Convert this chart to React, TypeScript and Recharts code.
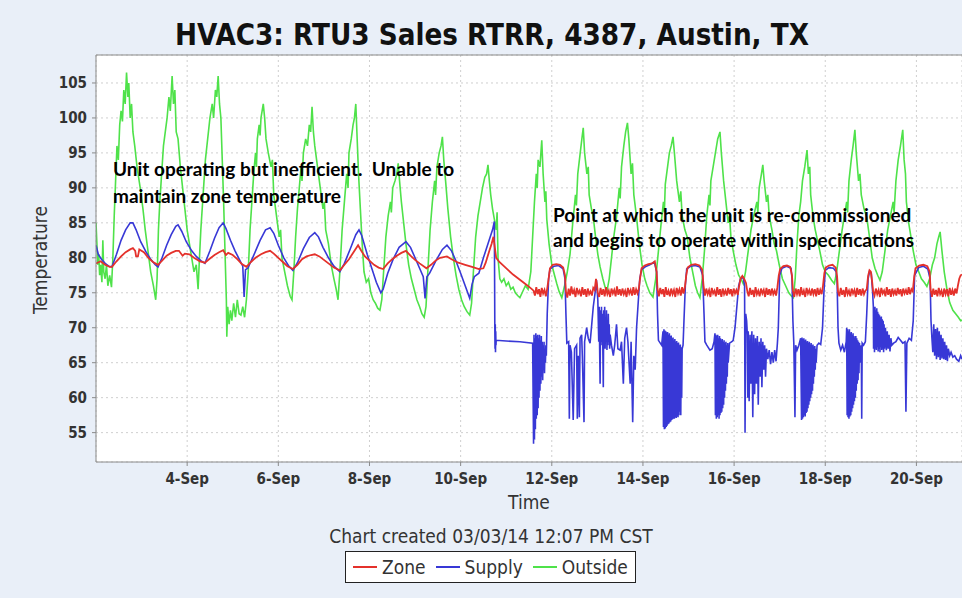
import React from "react";
import { LineChart, Line, XAxis, YAxis, CartesianGrid, ReferenceLine } from "recharts";

// time is in days of September (4.5 = 4-Sep noon), values in °F
const xTicks = [4, 6, 8, 10, 12, 14, 16, 18, 20];
const yTicks = [55, 60, 65, 70, 75, 80, 85, 90, 95, 100, 105];

const outside: [number, number][] = [
  [2.0, 85], [2.02, 82], [2.04, 79], [2.06, 80.5], [2.08, 77.5], [2.1, 79], [2.13, 76.5], [2.15, 82.5], [2.17, 78], [2.2, 77], [2.23, 79], [2.26, 76], [2.3, 77.5], [2.34, 75.8],
  [2.37, 80], [2.4, 86], [2.43, 91], [2.46, 96], [2.49, 94], [2.52, 99], [2.55, 101], [2.58, 99.5], [2.61, 104], [2.64, 102], [2.67, 106.5], [2.7, 103], [2.72, 105], [2.75, 100], [2.78, 102],
  [2.81, 98], [2.85, 96], [2.9, 93], [2.97, 90], [3.03, 87], [3.08, 84], [3.14, 81], [3.2, 78], [3.26, 76], [3.31, 74],
  [3.34, 77], [3.37, 84], [3.4, 88], [3.44, 92], [3.48, 96], [3.52, 98], [3.56, 100], [3.6, 103], [3.63, 101], [3.67, 106], [3.7, 102], [3.73, 104], [3.76, 98],
  [3.8, 97], [3.85, 93], [3.9, 90], [3.95, 87], [4.0, 84], [4.05, 82], [4.1, 80], [4.15, 78], [4.2, 79], [4.24, 75.5],
  [4.27, 80], [4.3, 84], [4.35, 89], [4.4, 94], [4.45, 97], [4.5, 100], [4.55, 102], [4.58, 100], [4.62, 104], [4.65, 103], [4.68, 106], [4.71, 102], [4.74, 100],
  [4.77, 94], [4.8, 88], [4.83, 81], [4.86, 74], [4.87, 68.7], [4.89, 73], [4.92, 70.5], [4.95, 72.5], [4.98, 71], [5.02, 73.5], [5.06, 71.5], [5.1, 74], [5.14, 72], [5.18, 71.8], [5.22, 73], [5.26, 71.5], [5.3, 74],
  [5.34, 78], [5.38, 84], [5.42, 88], [5.46, 92], [5.5, 95], [5.52, 93], [5.54, 97], [5.58, 99], [5.6, 97.5], [5.62, 100], [5.67, 102], [5.7, 100], [5.73, 97],
  [5.78, 95], [5.84, 93], [5.87, 94], [5.9, 89], [5.96, 86], [6.02, 83], [6.05, 84], [6.08, 80], [6.14, 78], [6.2, 76], [6.26, 74.5], [6.3, 74],
  [6.34, 78], [6.38, 83], [6.42, 87], [6.46, 90], [6.5, 93], [6.52, 91], [6.55, 95], [6.6, 97], [6.64, 96], [6.68, 99], [6.71, 98], [6.74, 101.6], [6.77, 98], [6.8, 96],
  [6.86, 93], [6.92, 90], [6.98, 87], [7.01, 88], [7.04, 84], [7.1, 82], [7.16, 79], [7.22, 77], [7.27, 75.5], [7.31, 74],
  [7.35, 78], [7.4, 84], [7.45, 88], [7.5, 92], [7.53, 90], [7.55, 95], [7.6, 97], [7.64, 99], [7.67, 100], [7.7, 102], [7.73, 97],
  [7.76, 92], [7.8, 87], [7.84, 82], [7.88, 78], [7.93, 76.5], [7.98, 77], [8.03, 75], [8.08, 74], [8.13, 73.5], [8.18, 72.8], [8.23, 72.5], [8.27, 74],
  [8.31, 78], [8.36, 83], [8.41, 86], [8.46, 88], [8.48, 86.5], [8.51, 90], [8.56, 91], [8.6, 92], [8.63, 93.5], [8.66, 91], [8.7, 88],
  [8.75, 85], [8.8, 82], [8.86, 79], [8.92, 77], [8.98, 75.5], [9.04, 74], [9.1, 73], [9.15, 72], [9.2, 71.5], [9.24, 73],
  [9.28, 78], [9.33, 84], [9.38, 88], [9.43, 91], [9.45, 89], [9.48, 93], [9.53, 95], [9.57, 96], [9.6, 97.3], [9.63, 94], [9.67, 91],
  [9.72, 87], [9.78, 83], [9.84, 80], [9.9, 77.5], [9.96, 75.5], [10.02, 74], [10.08, 73], [10.14, 72.3], [10.2, 71.8], [10.24, 73.5],
  [10.28, 78], [10.33, 83], [10.38, 86], [10.43, 88], [10.48, 90], [10.53, 91.5], [10.57, 92], [10.6, 93.3], [10.63, 91], [10.66, 89], [10.7, 87], [10.74, 85.5],
  [10.78, 84], [10.8, 86.5], [10.82, 80], [10.86, 77], [10.9, 76.5], [10.95, 77], [11.0, 76], [11.05, 76.5], [11.1, 75.5], [11.15, 75.8], [11.2, 75], [11.25, 74.6], [11.3, 74.3],
  [11.35, 75], [11.42, 76], [11.48, 75.5], [11.54, 78], [11.58, 83], [11.62, 88], [11.66, 92], [11.68, 90], [11.7, 94], [11.74, 93], [11.78, 96.8], [11.81, 92],
  [11.85, 88], [11.87, 89.5], [11.89, 85.5], [11.94, 82], [12.0, 79], [12.06, 77.5], [12.11, 76.3], [12.16, 75.2], [12.22, 74.3],
  [12.28, 76], [12.34, 78], [12.4, 80.5], [12.46, 85], [12.52, 89], [12.54, 87.5], [12.57, 92], [12.62, 94.8], [12.66, 97], [12.69, 98.6], [12.72, 95],
  [12.77, 92], [12.8, 93], [12.82, 89], [12.87, 87], [12.91, 85.8], [12.96, 83], [13.01, 80.5], [13.06, 78.7], [13.12, 77], [13.17, 75.8], [13.21, 75.2],
  [13.26, 77], [13.31, 80], [13.36, 83], [13.42, 85.8], [13.48, 90], [13.5, 88.5], [13.53, 93], [13.58, 96], [13.62, 98], [13.66, 99.3], [13.69, 97],
  [13.74, 92], [13.77, 93.5], [13.8, 89], [13.86, 85.8], [13.92, 82], [13.98, 79], [14.04, 77], [14.09, 76], [14.15, 75], [14.22, 74.4],
  [14.28, 77], [14.34, 81], [14.4, 85], [14.45, 88], [14.47, 86.5], [14.49, 90.5], [14.54, 93], [14.58, 95], [14.62, 96], [14.66, 97.3], [14.69, 95],
  [14.74, 91], [14.8, 88], [14.83, 89.5], [14.86, 86], [14.92, 84], [14.97, 83], [15.03, 80], [15.09, 78], [15.15, 76], [15.2, 75], [15.25, 74.3],
  [15.3, 77], [15.35, 81], [15.4, 86], [15.45, 89], [15.47, 87.5], [15.49, 91], [15.54, 93], [15.59, 95], [15.64, 97], [15.69, 98], [15.72, 95],
  [15.77, 91], [15.82, 88], [15.87, 85], [15.9, 86], [15.93, 83], [15.98, 81], [16.04, 79], [16.1, 77.5], [16.15, 77], [16.2, 76.3],
  [16.25, 78], [16.31, 81], [16.37, 84], [16.43, 86], [16.5, 88], [16.52, 86.5], [16.55, 90], [16.6, 92], [16.63, 93.3], [16.66, 91],
  [16.71, 88], [16.74, 89], [16.77, 86], [16.83, 84], [16.88, 82], [16.93, 81], [16.99, 79], [17.06, 77], [17.13, 76], [17.2, 75], [17.26, 74.5], [17.3, 74.3],
  [17.34, 77], [17.38, 82], [17.42, 86], [17.46, 88], [17.5, 91], [17.55, 93], [17.6, 95.4], [17.63, 92], [17.66, 93],
  [17.68, 89], [17.73, 86], [17.78, 84], [17.83, 82.5], [17.88, 81], [17.94, 79], [18.0, 78], [18.07, 77.5], [18.14, 76.8], [18.2, 76.3],
  [18.25, 78], [18.31, 81], [18.37, 84], [18.42, 86], [18.47, 88], [18.49, 86.5], [18.52, 91], [18.57, 94], [18.61, 96], [18.65, 98.3], [18.68, 95],
  [18.73, 91], [18.76, 92], [18.79, 89], [18.85, 87], [18.91, 85.8], [18.97, 83], [19.03, 80], [19.09, 78.5], [19.15, 77.5], [19.2, 76.8],
  [19.25, 78], [19.31, 81], [19.37, 84], [19.43, 86], [19.49, 88], [19.51, 86.5], [19.55, 91], [19.6, 94], [19.65, 96], [19.7, 98.3], [19.73, 94],
  [19.76, 92], [19.78, 88], [19.83, 85], [19.88, 83], [19.93, 81], [19.99, 79], [20.05, 78], [20.11, 77], [20.17, 76.5], [20.23, 75.9],
  [20.29, 77], [20.35, 79], [20.4, 80], [20.45, 82], [20.49, 83], [20.52, 83.7], [20.56, 81], [20.61, 78], [20.67, 75.5], [20.73, 73.6], [20.8, 72.5], [20.86, 72], [20.92, 71.5], [20.97, 71], [21.0, 71.1],
];

const supply: [number, number][] = [
  [2.0, 81.8], [2.05, 80.5], [2.12, 79.8], [2.2, 79.2], [2.28, 78.8], [2.35, 78.7], [2.45, 80.5], [2.55, 82.5], [2.65, 84], [2.75, 85], [2.81, 85], [2.88, 84], [2.98, 82.3],
  [3.1, 80.8], [3.2, 79.8], [3.3, 79], [3.36, 78.7], [3.45, 80], [3.55, 81.8], [3.65, 83.3], [3.75, 84.5], [3.8, 84.7], [3.88, 83.8], [3.98, 82.3],
  [4.1, 81], [4.2, 80.2], [4.3, 79.6], [4.39, 79.2], [4.5, 81], [4.6, 82.8], [4.7, 84.3], [4.79, 85], [4.85, 84.2], [4.95, 82.5],
  [5.05, 81], [5.15, 79.7], [5.22, 78.8], [5.25, 74.4], [5.28, 78.3], [5.33, 78.5], [5.45, 80.2], [5.6, 82.5], [5.72, 84], [5.82, 84.3], [5.9, 83.5],
  [6.0, 81.8], [6.12, 80], [6.22, 78.9], [6.32, 78.2], [6.42, 79.3], [6.55, 81.3], [6.68, 82.9], [6.8, 83.6], [6.88, 83], [6.98, 81.5],
  [7.1, 80], [7.22, 78.8], [7.35, 78], [7.45, 79.2], [7.58, 81.3], [7.7, 83.3], [7.77, 84], [7.83, 83.2], [7.95, 80.5],
  [8.05, 78.5], [8.15, 76.5], [8.25, 75], [8.3, 75.5], [8.4, 77.8], [8.52, 79.8], [8.65, 81.5], [8.8, 82.3], [8.9, 81.5],
  [9.0, 80], [9.1, 78.5], [9.18, 77.3], [9.22, 74.2], [9.26, 77.3], [9.32, 77.8], [9.45, 79.5], [9.6, 81.2], [9.7, 81.8], [9.8, 81], [9.9, 79.5],
  [10.0, 77.8], [10.1, 76], [10.2, 74.2], [10.25, 76.2], [10.3, 77.3], [10.4, 77.8], [10.5, 80], [10.6, 82], [10.7, 84], [10.74, 85.2],
  [10.75, 70], [10.755, 67], [10.76, 70.5], [10.765, 66.5], [10.77, 69.5], [10.775, 67.5], [10.78, 68.2], [11.0, 68.1], [11.3, 68], [11.58, 67.8],
  [11.6, 53.4], [11.61, 69], [11.62, 54], [11.63, 68.5], [11.64, 55.5], [11.65, 69.2], [11.66, 57], [11.67, 68.8], [11.68, 57.5], [11.69, 69], [11.7, 58.5], [11.71, 68.5],
  [11.72, 60], [11.73, 69], [11.74, 61], [11.75, 68.2], [11.76, 62], [11.77, 68.8], [11.78, 63], [11.79, 68], [11.8, 62.5], [11.81, 67.5], [11.82, 64], [11.83, 68],
  [11.84, 63.5], [11.85, 67], [11.86, 65], [11.87, 67.5], [11.88, 66], [11.9, 72], [11.93, 77], [11.96, 78.4], [12.05, 78.8], [12.15, 78.9], [12.25, 78.4], [12.29, 77],
  [12.31, 72], [12.33, 67.8], [12.37, 68], [12.385, 57], [12.4, 67.5], [12.43, 66.5], [12.47, 56.8], [12.5, 67], [12.545, 67.5], [12.56, 57], [12.58, 66], [12.605, 57.2],
  [12.62, 68.5], [12.655, 69], [12.67, 66], [12.707, 56.5], [12.72, 68], [12.765, 70], [12.8, 68.5], [12.84, 67.8], [12.87, 70], [12.91, 73], [12.95, 75], [12.98, 76.8], [13.01, 74],
  [13.03, 68], [13.04, 73], [13.05, 67], [13.06, 62], [13.07, 72.5], [13.08, 67.5], [13.09, 73], [13.1, 68], [13.11, 72], [13.12, 67], [13.13, 61.5], [13.14, 72.5],
  [13.15, 68], [13.16, 73], [13.17, 67], [13.18, 71.5], [13.19, 68], [13.2, 72.5], [13.21, 66.8], [13.22, 71], [13.23, 67.5], [13.24, 72], [13.25, 68], [13.26, 70.5], [13.27, 67], [13.28, 69],
  [13.31, 67.5], [13.35, 66], [13.38, 67.5], [13.42, 70.5], [13.45, 67], [13.5, 66.8], [13.53, 68], [13.57, 62], [13.6, 68.5], [13.64, 70], [13.67, 68], [13.72, 62],
  [13.74, 68], [13.775, 56.5], [13.8, 66], [13.83, 64], [13.86, 70], [13.9, 74], [13.93, 77], [13.97, 78.3], [14.05, 78.7], [14.15, 79], [14.25, 79.4], [14.3, 78],
  [14.32, 72], [14.34, 68.2], [14.38, 67.8], [14.41, 67.5], [14.44, 69.5], [14.45, 55.8], [14.46, 69.8], [14.47, 55.5], [14.48, 69.6], [14.49, 55.6], [14.5, 69.5], [14.51, 55.8],
  [14.52, 69.3], [14.53, 56], [14.54, 69.4], [14.55, 56.2], [14.56, 69], [14.57, 56.3], [14.58, 69.2], [14.59, 56.5], [14.6, 68.8], [14.61, 56.6], [14.62, 68.9], [14.63, 56.8],
  [14.64, 68.5], [14.65, 56.9], [14.66, 68.6], [14.67, 57], [14.68, 68.2], [14.69, 57], [14.7, 68.4], [14.71, 57.2], [14.72, 68], [14.73, 57.1], [14.74, 68.1], [14.75, 57.3],
  [14.76, 67.8], [14.77, 57.2], [14.78, 67.9], [14.79, 57.5], [14.8, 67.5], [14.81, 58], [14.82, 67.6], [14.83, 57.5], [14.84, 67.2], [14.85, 60], [14.86, 67], [14.88, 67.5],
  [14.9, 71], [14.93, 76], [14.96, 78.4], [15.05, 78.8], [15.15, 78.9], [15.25, 78.7], [15.31, 77.5],
  [15.34, 72], [15.36, 68], [15.4, 67.5], [15.47, 66.8], [15.52, 67], [15.56, 68], [15.58, 69.2], [15.59, 57.5], [15.6, 69], [15.61, 57], [15.62, 68.8], [15.63, 57.2],
  [15.64, 69], [15.65, 57.5], [15.66, 68.5], [15.67, 57], [15.68, 68.8], [15.69, 57.5], [15.7, 68.5], [15.71, 57.8], [15.72, 68.2], [15.73, 58], [15.74, 68.4], [15.75, 58.5],
  [15.76, 68], [15.77, 59], [15.78, 68.2], [15.79, 60], [15.8, 67.8], [15.81, 61], [15.82, 68], [15.83, 62], [15.84, 67.5], [15.85, 63], [15.86, 67.8], [15.87, 65],
  [15.9, 67.8], [15.95, 68], [15.98, 68.2], [16.02, 70], [16.06, 73], [16.1, 76], [16.14, 77], [16.2, 77.2], [16.23, 76], [16.24, 55], [16.255, 72], [16.275, 71],
  [16.29, 69], [16.3, 60], [16.31, 69.5], [16.33, 59.5], [16.35, 69], [16.37, 62], [16.39, 69.5], [16.41, 57.2], [16.43, 69], [16.45, 60.5], [16.47, 68.5], [16.49, 62],
  [16.51, 68.8], [16.53, 59], [16.55, 68], [16.57, 63], [16.59, 68.5], [16.61, 61.5], [16.63, 68], [16.65, 64], [16.67, 67.5], [16.69, 63], [16.71, 67], [16.74, 65.5],
  [16.77, 66.8], [16.8, 64.8], [16.83, 66.5], [16.86, 65], [16.89, 66.8], [16.92, 65.2], [16.95, 67.8], [16.97, 70], [17.0, 77.5], [17.05, 78.5], [17.15, 78.8], [17.25, 78.5], [17.27, 77],
  [17.29, 71], [17.31, 67.8], [17.335, 57.2], [17.35, 67.5], [17.38, 66.8], [17.42, 67.5], [17.46, 68.5], [17.48, 56.8], [17.49, 68.6], [17.5, 57], [17.51, 68.4], [17.52, 57.2],
  [17.53, 68.5], [17.54, 57.5], [17.55, 68.2], [17.56, 57.3], [17.57, 68.3], [17.58, 57.8], [17.59, 68], [17.6, 58], [17.61, 68.1], [17.62, 58.5], [17.63, 67.8], [17.64, 59],
  [17.65, 68], [17.66, 59.5], [17.67, 67.6], [17.68, 60], [17.69, 67.8], [17.7, 60.5], [17.71, 67.5], [17.72, 61], [17.73, 67.6], [17.74, 62], [17.75, 67.3], [17.76, 63],
  [17.77, 67.4], [17.78, 64], [17.79, 67], [17.8, 65], [17.82, 67.5], [17.86, 67.8], [17.9, 67.6], [17.94, 70], [17.97, 75], [18.0, 78.2], [18.08, 78.6], [18.18, 78.5], [18.24, 78], [18.26, 76.5],
  [18.28, 70], [18.3, 67.8], [18.34, 66.8], [18.38, 67.5], [18.42, 66.5], [18.46, 68], [18.47, 70], [18.48, 57.5], [18.49, 69.8], [18.5, 57.2], [18.51, 69.5], [18.52, 57],
  [18.53, 69.8], [18.54, 57.3], [18.55, 69.2], [18.56, 57.5], [18.57, 69.4], [18.58, 58], [18.59, 69], [18.6, 58.5], [18.61, 69.2], [18.62, 59], [18.63, 68.8], [18.64, 59.5],
  [18.65, 68.6], [18.66, 60], [18.67, 68.8], [18.68, 61], [18.69, 68.5], [18.7, 62], [18.71, 68.2], [18.72, 62.5], [18.73, 68], [18.74, 63.5], [18.75, 67.8], [18.77, 65],
  [18.79, 67.5], [18.8, 57], [18.81, 67.8], [18.84, 67.5], [18.88, 68], [18.91, 72], [18.94, 77], [18.97, 78], [19.01, 77.8], [19.04, 75], [19.055, 73],
  [19.06, 67], [19.07, 72.8], [19.08, 66.5], [19.09, 73], [19.1, 67], [19.11, 72.5], [19.12, 66.8], [19.13, 72.8], [19.14, 67.2], [19.15, 72.3], [19.16, 66.6], [19.17, 72],
  [19.18, 67], [19.19, 71.8], [19.2, 66.5], [19.21, 71.5], [19.22, 67.2], [19.23, 71.6], [19.24, 66.8], [19.25, 71.2], [19.26, 67], [19.27, 71], [19.28, 66.5], [19.29, 70.5],
  [19.3, 67], [19.32, 70], [19.34, 66.8], [19.36, 69.5], [19.38, 67], [19.4, 69], [19.42, 66.6], [19.44, 68.5], [19.46, 67.5], [19.5, 67.8], [19.55, 68], [19.6, 68.6],
  [19.65, 68.2], [19.7, 67.8], [19.75, 68], [19.77, 58], [19.79, 67.8], [19.84, 68.5], [19.89, 68.2], [19.93, 71], [19.96, 77.5], [20.05, 78.6], [20.15, 78.8], [20.25, 78.4], [20.3, 77],
  [20.32, 71], [20.34, 68.5], [20.36, 66.5], [20.38, 70.5], [20.4, 66], [20.42, 69.8], [20.44, 65.5], [20.46, 70], [20.48, 65.8], [20.5, 69.5], [20.52, 65.4], [20.54, 69],
  [20.56, 65.6], [20.58, 68.5], [20.6, 65.5], [20.62, 68], [20.64, 65.4], [20.66, 67.5], [20.68, 65.2], [20.7, 67], [20.73, 66], [20.76, 66.5], [20.8, 65.8], [20.84, 66],
  [20.88, 65.5], [20.93, 65.2], [20.97, 66], [21.0, 65.5],
];

const zone: [number, number][] = [
  [2.0, 79.2], [2.1, 79.5], [2.2, 79], [2.3, 78.7], [2.35, 78.7], [2.45, 79.5], [2.55, 80.2], [2.65, 80.8], [2.75, 81.2], [2.81, 81.4], [2.86, 81], [2.88, 80.2], [2.92, 80.2], [2.95, 81.2],
  [3.05, 80.8], [3.15, 80], [3.25, 79.4], [3.36, 79], [3.45, 79.6], [3.55, 80.3], [3.65, 80.7], [3.75, 81], [3.82, 81], [3.9, 80.3], [3.95, 80.6],
  [4.05, 80.5], [4.15, 80], [4.28, 79.5], [4.39, 79.3], [4.5, 79.9], [4.6, 80.4], [4.7, 80.8], [4.79, 81.1], [4.85, 80.4], [4.9, 80.7],
  [5.0, 80.4], [5.1, 79.8], [5.2, 79.1], [5.3, 78.7], [5.4, 79.4], [5.5, 80], [5.62, 80.5], [5.72, 80.8], [5.82, 81], [5.9, 80.6],
  [6.0, 80], [6.1, 79.4], [6.2, 78.8], [6.32, 78.4], [6.42, 79], [6.52, 79.8], [6.62, 80.2], [6.72, 80.4], [6.8, 80.5], [6.9, 80.2],
  [7.0, 79.7], [7.1, 79.2], [7.22, 78.6], [7.35, 78.2], [7.45, 79], [7.55, 79.8], [7.65, 80.8], [7.75, 81.8], [7.82, 81], [7.9, 80.2],
  [8.0, 79.6], [8.1, 79], [8.2, 78.6], [8.3, 78.4], [8.4, 79.2], [8.5, 79.8], [8.6, 80.3], [8.7, 80.7], [8.8, 81], [8.9, 80.3],
  [9.0, 79.7], [9.1, 79.2], [9.25, 78.5], [9.35, 79], [9.45, 79.6], [9.55, 80], [9.7, 80.2], [9.8, 79.8], [9.95, 79.3],
  [10.1, 79], [10.25, 78.7], [10.4, 78.4], [10.5, 78.5], [10.55, 79.3], [10.62, 80.8], [10.68, 82], [10.72, 83], [10.75, 81.5], [10.78, 80], [10.85, 79.4], [10.95, 78.8],
  [11.05, 78.2], [11.15, 77.6], [11.25, 77.1], [11.35, 76.6], [11.45, 76.1], [11.55, 75.6],
  [11.6, 75.3], [11.63, 74.6], [11.66, 75.8], [11.69, 74.8], [11.72, 75.5], [11.75, 74.4], [11.78, 75.7], [11.81, 74.9], [11.84, 75.4], [11.87, 74.5], [11.9, 75.6],
  [11.93, 77], [11.96, 78.5], [12.02, 79], [12.1, 79.1], [12.18, 79], [12.25, 78.6], [12.29, 77.5], [12.31, 75.2],
  [12.34, 74.3], [12.37, 75.6], [12.4, 74.6], [12.43, 75.9], [12.46, 74.8], [12.49, 75.4], [12.52, 74.4], [12.55, 75.7], [12.58, 74.9], [12.61, 75.3], [12.64, 74.5],
  [12.67, 75.8], [12.7, 74.7], [12.73, 75.5], [12.76, 74.4], [12.79, 75.6], [12.82, 74.8], [12.85, 75.2], [12.88, 74.6], [12.91, 75.7], [12.94, 75.4], [12.97, 77], [12.99, 76.2], [13.01, 75],
  [13.04, 74.4], [13.07, 75.7], [13.1, 74.7], [13.13, 75.5], [13.16, 74.5], [13.19, 75.8], [13.22, 74.8], [13.25, 75.3], [13.28, 74.4], [13.31, 75.6], [13.34, 74.9],
  [13.37, 75.4], [13.4, 74.5], [13.43, 75.9], [13.46, 74.7], [13.49, 75.5], [13.52, 74.6], [13.55, 75.6], [13.58, 74.8], [13.61, 75.3], [13.64, 74.4], [13.67, 75.7],
  [13.7, 74.9], [13.73, 75.4], [13.76, 74.6], [13.79, 75.8], [13.82, 74.7], [13.85, 75.5], [13.88, 74.9], [13.91, 75.6],
  [13.94, 77.2], [13.97, 78.5], [14.04, 78.9], [14.12, 79.1], [14.2, 79.2], [14.26, 79.5], [14.3, 78], [14.32, 75.5],
  [14.35, 74.5], [14.38, 75.7], [14.41, 74.8], [14.44, 75.5], [14.47, 74.4], [14.5, 75.8], [14.53, 74.7], [14.56, 75.3], [14.59, 74.5], [14.62, 75.6], [14.65, 74.8],
  [14.68, 75.4], [14.71, 74.4], [14.74, 75.7], [14.77, 74.9], [14.8, 75.5], [14.83, 74.6], [14.86, 75.8], [14.89, 74.9], [14.92, 75.8],
  [14.95, 77.5], [14.98, 78.6], [15.06, 79], [15.15, 79.1], [15.24, 78.9], [15.3, 78.3], [15.33, 76],
  [15.36, 74.6], [15.39, 75.6], [15.42, 74.8], [15.45, 75.4], [15.48, 74.4], [15.51, 75.7], [15.54, 74.9], [15.57, 75.3], [15.6, 74.5], [15.63, 75.8], [15.66, 74.7],
  [15.69, 75.5], [15.72, 74.4], [15.75, 75.6], [15.78, 74.8], [15.81, 75.3], [15.84, 74.6], [15.87, 75.7], [15.9, 74.8], [15.93, 75.5], [15.96, 74.5], [15.99, 75.6],
  [16.02, 74.9], [16.05, 75.4], [16.08, 74.7], [16.11, 75.9], [16.14, 77], [16.18, 77.4], [16.22, 77], [16.26, 76.4], [16.29, 75.2],
  [16.32, 74.5], [16.35, 75.7], [16.38, 74.7], [16.41, 75.4], [16.44, 74.4], [16.47, 75.8], [16.5, 74.8], [16.53, 75.3], [16.56, 74.5], [16.59, 75.6], [16.62, 74.9],
  [16.65, 75.4], [16.68, 74.4], [16.71, 75.7], [16.74, 74.7], [16.77, 75.5], [16.8, 74.6], [16.83, 75.6], [16.86, 74.8], [16.89, 75.3], [16.92, 74.6], [16.95, 75.8],
  [16.98, 77.5], [17.01, 78.4], [17.08, 78.8], [17.16, 78.9], [17.23, 78.7], [17.27, 77.5], [17.29, 75.3],
  [17.32, 74.4], [17.35, 75.6], [17.38, 74.8], [17.41, 75.5], [17.44, 74.5], [17.47, 75.8], [17.5, 74.7], [17.53, 75.3], [17.56, 74.4], [17.59, 75.7], [17.62, 74.9],
  [17.65, 75.4], [17.68, 74.6], [17.71, 75.6], [17.74, 74.8], [17.77, 75.5], [17.8, 74.5], [17.83, 75.7], [17.86, 74.7], [17.89, 75.4], [17.92, 74.8], [17.95, 76],
  [17.98, 77.8], [18.01, 78.6], [18.08, 78.9], [18.16, 79], [18.23, 78.6], [18.26, 77.3], [18.28, 75.2],
  [18.31, 74.5], [18.34, 75.7], [18.37, 74.7], [18.4, 75.4], [18.43, 74.4], [18.46, 75.8], [18.49, 74.8], [18.52, 75.3], [18.55, 74.5], [18.58, 75.6], [18.61, 74.9],
  [18.64, 75.4], [18.67, 74.4], [18.7, 75.7], [18.73, 74.7], [18.76, 75.5], [18.79, 74.6], [18.82, 75.6], [18.85, 74.8], [18.88, 75.3], [18.91, 75.5],
  [18.94, 77.4], [18.97, 78.2], [19.0, 78], [19.03, 76.5], [19.05, 75.2],
  [19.08, 74.6], [19.11, 75.6], [19.14, 74.8], [19.17, 75.4], [19.2, 74.4], [19.23, 75.7], [19.26, 74.9], [19.29, 75.3], [19.32, 74.5], [19.35, 75.8], [19.38, 74.7],
  [19.41, 75.5], [19.44, 74.4], [19.47, 75.6], [19.5, 74.8], [19.53, 75.3], [19.56, 74.6], [19.59, 75.7], [19.62, 74.8], [19.65, 75.5], [19.68, 74.5], [19.71, 75.6],
  [19.74, 74.9], [19.77, 75.4], [19.8, 74.7], [19.83, 75.8], [19.86, 74.8], [19.89, 75.5], [19.92, 75.2],
  [19.95, 77.2], [19.98, 78.5], [20.06, 78.9], [20.15, 79], [20.24, 78.8], [20.29, 78], [20.31, 75.5],
  [20.34, 74.4], [20.37, 75.6], [20.4, 74.7], [20.43, 75.4], [20.46, 74.5], [20.49, 75.7], [20.52, 74.8], [20.55, 75.3], [20.58, 74.4], [20.61, 75.6], [20.64, 74.8],
  [20.67, 75.5], [20.7, 74.5], [20.73, 75.7], [20.76, 74.7], [20.79, 75.4], [20.82, 74.6], [20.85, 75.6], [20.88, 74.9], [20.91, 76], [20.94, 77], [20.97, 77.5], [21.0, 77.6],
];

const rows = (pts: [number, number][]) => pts.map(([t, v]) => ({ t, v }));

const ZONE = "#e4312b";
const SUPPLY = "#3838d6";
const OUTSIDE = "#4fe24a";

const FONT = "'DejaVu Sans Condensed', 'DejaVu Sans', sans-serif";
const NOTE_FONT = "Lato, 'Open Sans', sans-serif";

const legendItems = [
  { name: "Zone", color: ZONE },
  { name: "Supply", color: SUPPLY },
  { name: "Outside", color: OUTSIDE },
];

const abs = (left: number, top: number): React.CSSProperties => ({
  position: "absolute",
  left,
  top,
  whiteSpace: "nowrap",
});

const note: React.CSSProperties = {
  fontFamily: NOTE_FONT,
  fontWeight: 700,
  fontSize: 19,
  lineHeight: "23px",
  color: "#000",
};

export default function App() {
  return (
    <div
      style={{
        position: "absolute",
        left: 0,
        top: 0,
        width: 962,
        height: 598,
        overflow: "hidden",
        background: "#e9eff8",
        fontFamily: FONT,
      }}
    >
      {/* Title */}
      <svg width={962} height={55} style={{ position: "absolute", left: 0, top: 0 }}>
        <text
          x={492}
          y={45}
          textAnchor="middle"
          fontSize={31}
          fontWeight="bold"
          fill="#111"
          fontFamily={FONT}
          textLength={634}
          lengthAdjust="spacingAndGlyphs"
        >
          HVAC3: RTU3 Sales RTRR, 4387, Austin, TX
        </text>
      </svg>

      <LineChart
        width={962}
        height={598}
        margin={{ top: 55, right: 0, bottom: 106, left: 0 }}
        style={{ position: "absolute", left: 0, top: 0 }}
      >
        <CartesianGrid fill="#ffffff" stroke="#cfcfcf" strokeDasharray="2 3" />
        <XAxis
          dataKey="t"
          type="number"
          domain={[2, 21]}
          ticks={xTicks}
          tickFormatter={(d) => `${d}-Sep`}
          allowDataOverflow
          height={30}
          tickSize={4}
          tickMargin={7}
          stroke="#8a8a8a"
          tick={{ fontSize: 15, fontWeight: "bold", fill: "#333", fontFamily: FONT }}
        />
        <YAxis
          type="number"
          domain={[50.8, 109]}
          ticks={yTicks}
          allowDataOverflow
          width={96}
          tickSize={4}
          tickMargin={5}
          stroke="#8a8a8a"
          tick={{ fontSize: 15, fontWeight: "bold", fill: "#333", fontFamily: FONT }}
        />
        <ReferenceLine y={109} stroke="#8a8a8a" />

        <Line data={rows(outside)} dataKey="v" name="Outside" stroke={OUTSIDE} strokeWidth={1.6} dot={false} isAnimationActive={false} />
        <Line data={rows(supply)} dataKey="v" name="Supply" stroke={SUPPLY} strokeWidth={1.6} dot={false} isAnimationActive={false} />
        <Line data={rows(zone)} dataKey="v" name="Zone" stroke={ZONE} strokeWidth={1.8} dot={false} isAnimationActive={false} />
      </LineChart>

      {/* Axis titles */}
      <div
        style={{
          ...abs(40, 260),
          transform: "translate(-50%, -50%) rotate(-90deg)",
          fontSize: 19,
          color: "#333",
        }}
      >
        Temperature
      </div>
      <div style={{ ...abs(529, 502), transform: "translate(-50%, -50%)", fontSize: 19, color: "#333" }}>Time</div>
      <div style={{ ...abs(491, 536), transform: "translate(-50%, -50%)", fontSize: 19, color: "#333" }}>
        Chart created 03/03/14 12:07 PM CST
      </div>

      {/* Legend */}
      <div
        style={{
          ...abs(345, 551),
          height: 30,
          padding: "0 7px",
          border: "1.5px solid #222",
          background: "#fff",
          display: "flex",
          alignItems: "center",
          gap: 10,
          fontSize: 19,
          color: "#333",
        }}
      >
        {legendItems.map((it) => (
          <span key={it.name} style={{ display: "flex", alignItems: "center", gap: 5 }}>
            <span style={{ width: 24, height: 2, background: it.color, display: "inline-block" }} />
            {it.name}
          </span>
        ))}
      </div>

      {/* Annotations */}
      <div style={{ ...abs(113, 157), ...note }}>Unit operating but inefficient.&nbsp; Unable to</div>
      <div style={{ ...abs(113, 184), ...note }}>maintain zone temperature</div>
      <div style={{ ...abs(553, 203), ...note }}>Point at which the unit is re-commissioned</div>
      <div style={{ ...abs(553, 228), ...note }}>and begins to operate within specifications</div>
    </div>
  );
}
